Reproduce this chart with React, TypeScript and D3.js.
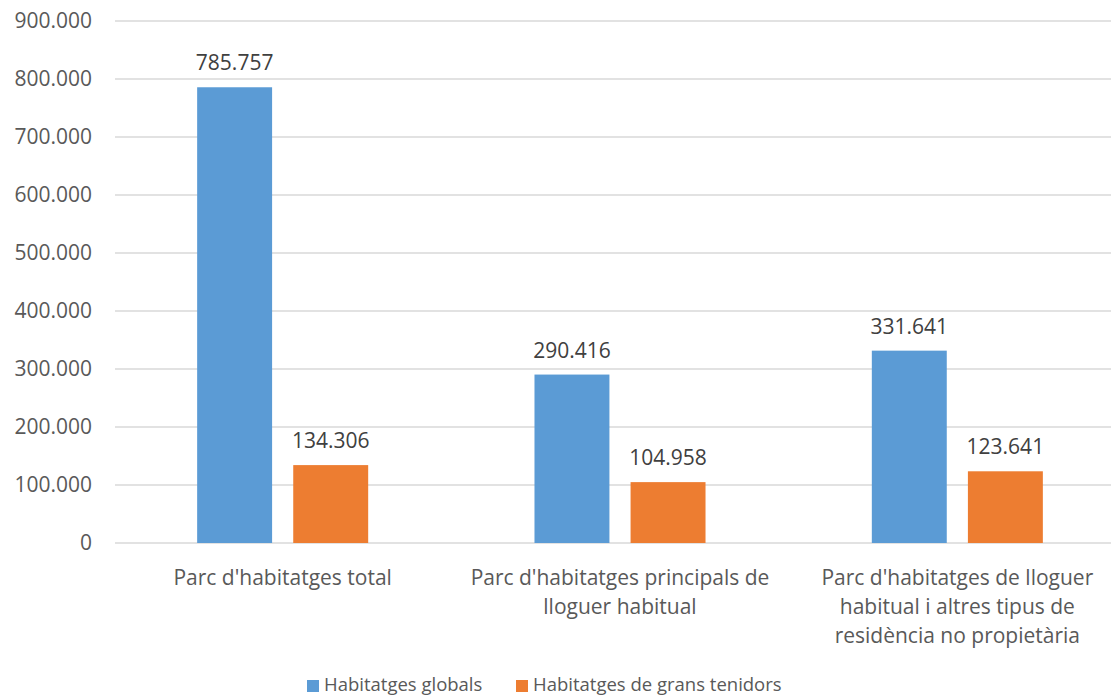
import React from "react";
import * as d3 from "d3";

const categories = [
  ["Parc d'habitatges total"],
  ["Parc d'habitatges principals de", "lloguer habitual"],
  ["Parc d'habitatges de lloguer", "habitual i altres tipus de", "residència no propietària"],
];
const seriesNames = ["Habitatges globals", "Habitatges de grans tenidors"];
const globals = [785757, 290416, 331641];
const tenidors = [134306, 104958, 123641];
const yTicks = [0, 100000, 200000, 300000, 400000, 500000, 600000, 700000, 800000, 900000];
const colors = ["#5B9BD5", "#ED7D31"];

const W = 1111, H = 697;
const FONT = "'Open Sans', sans-serif";
const fmt = (v: number) => d3.format(",")(v).replace(/,/g, ".");

export default function App() {
  const series = [globals, tenidors];
  const x = d3.scaleBand<number>()
    .domain(categories.map((_, i) => i))
    .range([114, 1126])
    .paddingInner(0.493)
    .paddingOuter(0.2465);
  const inner = d3.scaleBand<number>()
    .domain([0, 1])
    .range([0, x.bandwidth()])
    .paddingInner(0.22);
  const y = d3.scaleLinear().domain([0, 900000]).range([543, 21]);

  return (
    <svg width={W} height={H} style={{position: "absolute", left: 0, top: 0, background: "#fff"}}
         fontFamily={FONT}>
      {yTicks.map(t => (
        <g key={t}>
          <line x1={115} x2={W} y1={y(t)} y2={y(t)} stroke="#D9D9D9" strokeWidth={1.5}/>
          <text x={92} y={y(t)} dy="0.35em" textAnchor="end" fontSize={21} fill="#595959">{fmt(t)}</text>
        </g>
      ))}
      {series.map((vals, s) => vals.map((v, i) => {
        const bx = (x(i) as number) + (inner(s) as number);
        return (
          <g key={s + "-" + i}>
            <rect x={bx} y={y(v)} width={inner.bandwidth()} height={y(0) - y(v)} fill={colors[s]}/>
            <text x={bx + inner.bandwidth() / 2} y={y(v) - 17} textAnchor="middle" fontSize={21} fill="#404040">{fmt(v)}</text>
          </g>
        );
      }))}
      {categories.map((lines, i) => (
        <text key={i} textAnchor="middle" fontSize={21} fill="#595959">
          {lines.map((l, j) => (
            <tspan key={j} x={(x(i) as number) + x.bandwidth() / 2} y={585 + j * 29}>{l}</tspan>
          ))}
        </text>
      ))}
      {seriesNames.map((n, s) => {
        const lx = [307, 516][s];
        return (
          <g key={n}>
            <rect x={lx} y={680} width={12} height={12} fill={colors[s]}/>
            <text x={lx + 17} y={691} fontSize={18.5} fill="#595959">{n}</text>
          </g>
        );
      })}
    </svg>
  );
}
